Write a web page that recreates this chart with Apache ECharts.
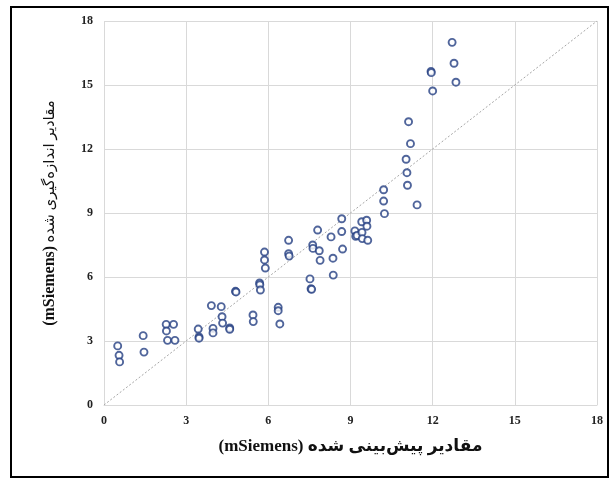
<!DOCTYPE html>
<html><head><meta charset="utf-8">
<script src="https://cdn.jsdelivr.net/npm/echarts@6/dist/echarts.min.js"></script>
<style>html,body{margin:0;padding:0;background:#fff}#c{width:609px;height:479px}</style>
</head><body><div id="c"></div>
<script>
const predicted = [0.50,0.55,0.57,1.43,1.46,2.27,2.28,2.32,2.54,2.59,3.44,3.47,3.47,3.92,3.98,3.98,4.28,4.31,4.33,4.59,4.59,4.80,4.82,5.44,5.45,5.68,5.69,5.71,5.86,5.86,5.89,6.36,6.36,6.42,6.74,6.74,6.76,7.52,7.56,7.58,7.62,7.63,7.80,7.86,7.89,8.29,8.36,8.37,8.68,8.68,8.71,9.16,9.19,9.24,9.41,9.42,9.43,9.59,9.60,9.63,10.21,10.21,10.24,11.03,11.06,11.08,11.12,11.19,11.43,11.94,11.95,12.00,12.71,12.78,12.85];
const measured  = [2.77,2.33,2.02,3.25,2.48,3.78,3.47,3.03,3.78,3.03,3.56,3.19,3.13,4.66,3.59,3.38,4.61,4.14,3.84,3.61,3.55,5.33,5.30,4.22,3.91,5.72,5.64,5.39,7.17,6.80,6.42,4.58,4.42,3.80,7.72,7.09,6.98,5.91,5.45,5.42,7.50,7.34,8.20,7.23,6.78,7.88,6.88,6.09,8.73,8.13,7.31,8.16,7.91,7.95,8.59,8.09,7.80,8.66,8.38,7.72,10.09,9.56,8.97,11.52,10.89,10.30,13.28,12.25,9.38,15.64,15.58,14.72,17.00,16.02,15.13];
const diagonal = [[0,0],[18,18]];
const unitText = '(mSiemens)';
const xTitleText = 'مقادیر پیش‌بینی شده';
const yTitleText = 'مقادیر اندازه‌گیری شده';

const chart = echarts.init(document.getElementById('c'), null, {renderer:'canvas'});
const serif = 'Liberation Serif, DejaVu Serif, serif';
const labelStyle = {color:'#222', fontFamily:serif, fontWeight:'bold', fontSize:12};
chart.setOption({
  animation:false,
  graphic:[{type:'rect', shape:{x:11, y:7, width:597, height:470}, style:{fill:'none', stroke:'#000', lineWidth:2}, silent:true}],
  grid:{left:104, right:12, top:21, bottom:74},
  xAxis:{type:'value', min:0, max:18, interval:3,
    name:unitText + ' ' + xTitleText, nameLocation:'middle', nameGap:33,
    nameTextStyle:{color:'#111', fontFamily:'Liberation Serif, DejaVu Sans, serif', fontWeight:'bold', fontSize:17},
    axisLine:{show:true, lineStyle:{color:'#d9d9d9'}}, axisTick:{show:false},
    axisLabel:Object.assign({margin:10}, labelStyle),
    splitLine:{show:true, lineStyle:{color:'#d9d9d9', width:1}}},
  yAxis:{type:'value', min:0, max:18, interval:3,
    name:'{u|' + unitText + '} {t|' + yTitleText + '}', nameLocation:'middle', nameGap:46, nameRotate:90,
    nameTextStyle:{color:'#111', rich:{
      u:{fontFamily:serif, fontWeight:'bold', fontSize:16, color:'#111'},
      t:{fontFamily:'Liberation Serif, DejaVu Sans, serif', fontWeight:'normal', fontSize:15, color:'#111'}}},
    axisLine:{show:false}, axisTick:{show:false},
    axisLabel:Object.assign({margin:11}, labelStyle),
    splitLine:{show:true, lineStyle:{color:'#d9d9d9', width:1}}},
  series:[
    {type:'line', data:diagonal, symbol:'none', silent:true,
     lineStyle:{color:'#a6a6a6', width:1, type:[2,2]}, z:1},
    {type:'scatter', data:predicted.map((p,i)=>[p, measured[i]]), symbol:'circle', symbolSize:7,
     itemStyle:{color:'#fff', borderColor:'#243f82', borderWidth:1.9}, z:3}
  ]
});
</script></body></html>
